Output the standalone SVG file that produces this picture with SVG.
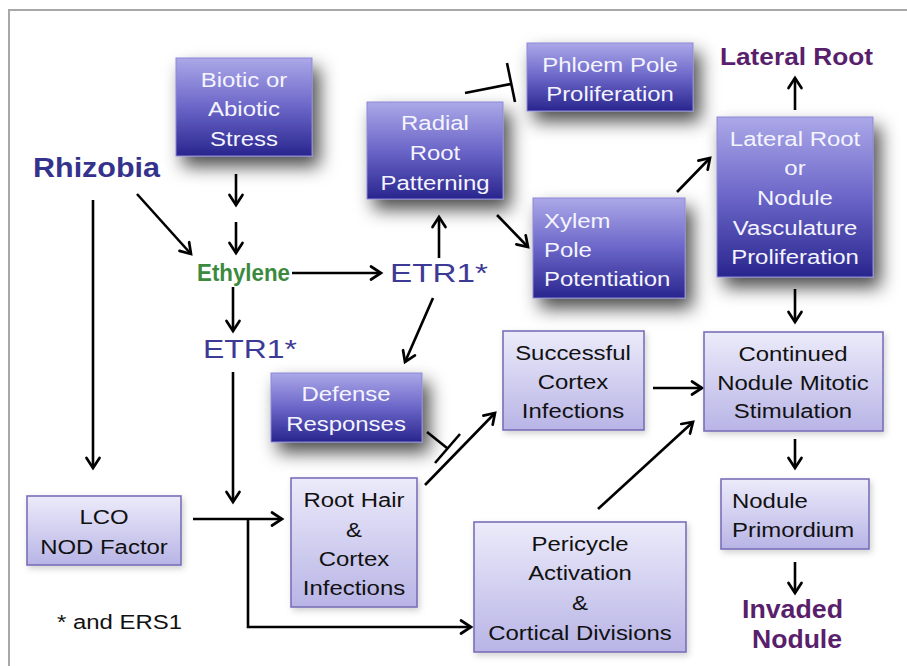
<svg xmlns="http://www.w3.org/2000/svg" width="907" height="666" viewBox="0 0 907 666">
<defs>
<linearGradient id="gDark" x1="0" y1="0" x2="0" y2="1">
<stop offset="0" stop-color="#aca8e8"/>
<stop offset="0.5" stop-color="#6b66c8"/>
<stop offset="1" stop-color="#29258e"/>
</linearGradient>
<linearGradient id="gLight" x1="0" y1="0" x2="0" y2="1">
<stop offset="0" stop-color="#ecebfa"/>
<stop offset="1" stop-color="#b8b4e6"/>
</linearGradient>
<filter id="shDark" x="-40%" y="-40%" width="190%" height="190%">
<feDropShadow dx="7" dy="10" stdDeviation="9" flood-color="#000" flood-opacity="0.7"/>
</filter>
<filter id="shLight" x="-10%" y="-10%" width="130%" height="130%">
<feDropShadow dx="2" dy="3" stdDeviation="3" flood-color="#000" flood-opacity="0.18"/>
</filter>
<marker id="ah" markerUnits="userSpaceOnUse" markerWidth="20" markerHeight="20" viewBox="-12 -10 14 20" refX="0" refY="0" orient="auto">
<path d="M-10,-6.5 L0,0 L-10,6.5" fill="none" stroke="#000" stroke-width="2.7" stroke-linecap="round" stroke-linejoin="miter"/>
</marker>
<style>
.dark{fill:url(#gDark);stroke:#8c88d6;stroke-width:1;filter:url(#shDark)}
.light{fill:url(#gLight);stroke:#7a70b8;stroke-width:1.6;filter:url(#shLight)}
.tw{font-family:"Liberation Sans",Arial,sans-serif;font-size:21px;fill:#f4f4ff;text-anchor:middle}
.tb{font-family:"Liberation Sans",Arial,sans-serif;font-size:21px;fill:#111;text-anchor:middle}
.left{text-anchor:start}
.lbl{font-family:"Liberation Sans",Arial,sans-serif}
.con line,.con path{stroke:#000;stroke-width:2.6;fill:none}
.arr{marker-end:url(#ah)}
</style>
</defs>
<rect x="0" y="0" width="907" height="666" fill="#fff"/>
<path d="M9,666 V10 H907" fill="none" stroke="#a8a8a8" stroke-width="2"/>

<g id="connectors" class="con">
<line class="arr" x1="93" y1="200" x2="93" y2="468"/>
<line class="arr" x1="137" y1="194" x2="191" y2="254"/>
<line class="arr" x1="236" y1="174" x2="236" y2="205"/>
<line class="arr" x1="236" y1="222" x2="236" y2="253"/>
<line class="arr" x1="233" y1="287" x2="233" y2="331"/>
<line class="arr" x1="292" y1="273" x2="381" y2="273"/>
<line class="arr" x1="439" y1="258" x2="439" y2="217"/>
<line class="arr" x1="433" y1="298" x2="405" y2="362"/>
<line x1="465" y1="93" x2="511" y2="84"/>
<line x1="507" y1="63" x2="515" y2="102"/>
<line class="arr" x1="497" y1="215" x2="528" y2="247"/>
<line class="arr" x1="677" y1="192" x2="710" y2="158"/>
<line class="arr" x1="795" y1="110" x2="795" y2="78"/>
<line class="arr" x1="795" y1="289" x2="795" y2="322"/>
<line class="arr" x1="233" y1="372" x2="233" y2="502"/>
<line class="arr" x1="193" y1="519" x2="282" y2="519"/>
<path class="arr" d="M248,519 V627 H471"/>
<line x1="427" y1="432" x2="447" y2="448"/>
<line x1="435" y1="463" x2="460" y2="434"/>
<line class="arr" x1="425" y1="485" x2="495" y2="413"/>
<line class="arr" x1="653" y1="388" x2="702" y2="388"/>
<line class="arr" x1="598" y1="509" x2="693" y2="422"/>
<line class="arr" x1="795" y1="439" x2="795" y2="468"/>
<line class="arr" x1="795" y1="562" x2="795" y2="593"/>
</g>

<g id="rhizobia"><text class="lbl" x="33" y="177" font-size="27" font-weight="bold" fill="#34328c" textLength="127" lengthAdjust="spacingAndGlyphs">Rhizobia</text></g>
<g id="ethylene"><text class="lbl" x="197" y="281" font-size="23" font-weight="bold" fill="#3b8a3e" textLength="93" lengthAdjust="spacingAndGlyphs">Ethylene</text></g>
<g id="etr1-right"><text class="lbl" x="390" y="282" font-size="26" fill="#3d3a96" textLength="98" lengthAdjust="spacingAndGlyphs">ETR1*</text></g>
<g id="etr1-lower"><text class="lbl" x="203" y="358" font-size="26" fill="#3d3a96" textLength="94" lengthAdjust="spacingAndGlyphs">ETR1*</text></g>
<g id="lateral-root-label"><text class="lbl" x="720" y="65" font-size="24" font-weight="bold" fill="#5a1f6c" textLength="153" lengthAdjust="spacingAndGlyphs">Lateral Root</text></g>
<g id="invaded-nodule">
<text class="lbl" x="742" y="618" font-size="25" font-weight="bold" fill="#5a1f6c" textLength="101" lengthAdjust="spacingAndGlyphs">Invaded</text>
<text class="lbl" x="752" y="648" font-size="25" font-weight="bold" fill="#5a1f6c" textLength="90" lengthAdjust="spacingAndGlyphs">Nodule</text>
</g>
<g id="ers1-note"><g transform="translate(57 0) scale(1.14 1)"><text class="tb left" x="0" y="629">* and ERS1</text></g></g>

<g id="biotic-stress">
<rect class="dark" x="176" y="58" width="136" height="98"/>
<g transform="translate(244 0) scale(1.14 1)"><text class="tw" x="0" y="87">Biotic or</text><text class="tw" x="0" y="116">Abiotic</text><text class="tw" x="0" y="146">Stress</text></g>
</g>
<g id="radial-root">
<rect class="dark" x="367" y="102" width="136" height="97"/>
<g transform="translate(435 0) scale(1.14 1)"><text class="tw" x="0" y="130">Radial</text><text class="tw" x="0" y="160">Root</text><text class="tw" x="0" y="190">Patterning</text></g>
</g>
<g id="phloem">
<rect class="dark" x="527" y="43" width="166" height="68"/>
<g transform="translate(610 0) scale(1.14 1)"><text class="tw" x="0" y="72">Phloem Pole</text><text class="tw" x="0" y="101">Proliferation</text></g>
</g>
<g id="xylem">
<rect class="dark" x="533" y="198" width="152" height="100"/>
<g transform="translate(544 0) scale(1.14 1)"><text class="tw left" x="0" y="228">Xylem</text><text class="tw left" x="0" y="257">Pole</text><text class="tw left" x="0" y="286">Potentiation</text></g>
</g>
<g id="lateral-vasc">
<rect class="dark" x="717" y="117" width="156" height="160"/>
<g transform="translate(795 0) scale(1.14 1)"><text class="tw" x="0" y="146">Lateral Root</text><text class="tw" x="0" y="175">or</text><text class="tw" x="0" y="205">Nodule</text><text class="tw" x="0" y="235">Vasculature</text><text class="tw" x="0" y="264">Proliferation</text></g>
</g>
<g id="defense">
<rect class="dark" x="271" y="373" width="151" height="69"/>
<g transform="translate(346 0) scale(1.14 1)"><text class="tw" x="0" y="401">Defense</text><text class="tw" x="0" y="431">Responses</text></g>
</g>

<g id="lco">
<rect class="light" x="27" y="496" width="154" height="69"/>
<g transform="translate(104 0) scale(1.14 1)"><text class="tb" x="0" y="524">LCO</text><text class="tb" x="0" y="554">NOD Factor</text></g>
</g>
<g id="root-hair">
<rect class="light" x="291" y="478" width="126" height="129"/>
<g transform="translate(354 0) scale(1.14 1)"><text class="tb" x="0" y="507">Root Hair</text><text class="tb" x="0" y="537">&amp;</text><text class="tb" x="0" y="566">Cortex</text><text class="tb" x="0" y="595">Infections</text></g>
</g>
<g id="successful">
<rect class="light" x="503" y="331" width="141" height="99"/>
<g transform="translate(573 0) scale(1.14 1)"><text class="tb" x="0" y="360">Successful</text><text class="tb" x="0" y="389">Cortex</text><text class="tb" x="0" y="418">Infections</text></g>
</g>
<g id="continued">
<rect class="light" x="704" y="332" width="179" height="99"/>
<g transform="translate(793 0) scale(1.14 1)"><text class="tb" x="0" y="361">Continued</text><text class="tb" x="0" y="390">Nodule Mitotic</text><text class="tb" x="0" y="418">Stimulation</text></g>
</g>
<g id="primordium">
<rect class="light" x="721" y="479" width="148" height="70"/>
<g transform="translate(732 0) scale(1.14 1)"><text class="tb left" x="0" y="508">Nodule</text><text class="tb left" x="0" y="537">Primordium</text></g>
</g>
<g id="pericycle">
<rect class="light" x="474" y="522" width="212" height="130"/>
<g transform="translate(580 0) scale(1.14 1)"><text class="tb" x="0" y="551">Pericycle</text><text class="tb" x="0" y="580">Activation</text><text class="tb" x="0" y="610">&amp;</text><text class="tb" x="0" y="640">Cortical Divisions</text></g>
</g>
</svg>
